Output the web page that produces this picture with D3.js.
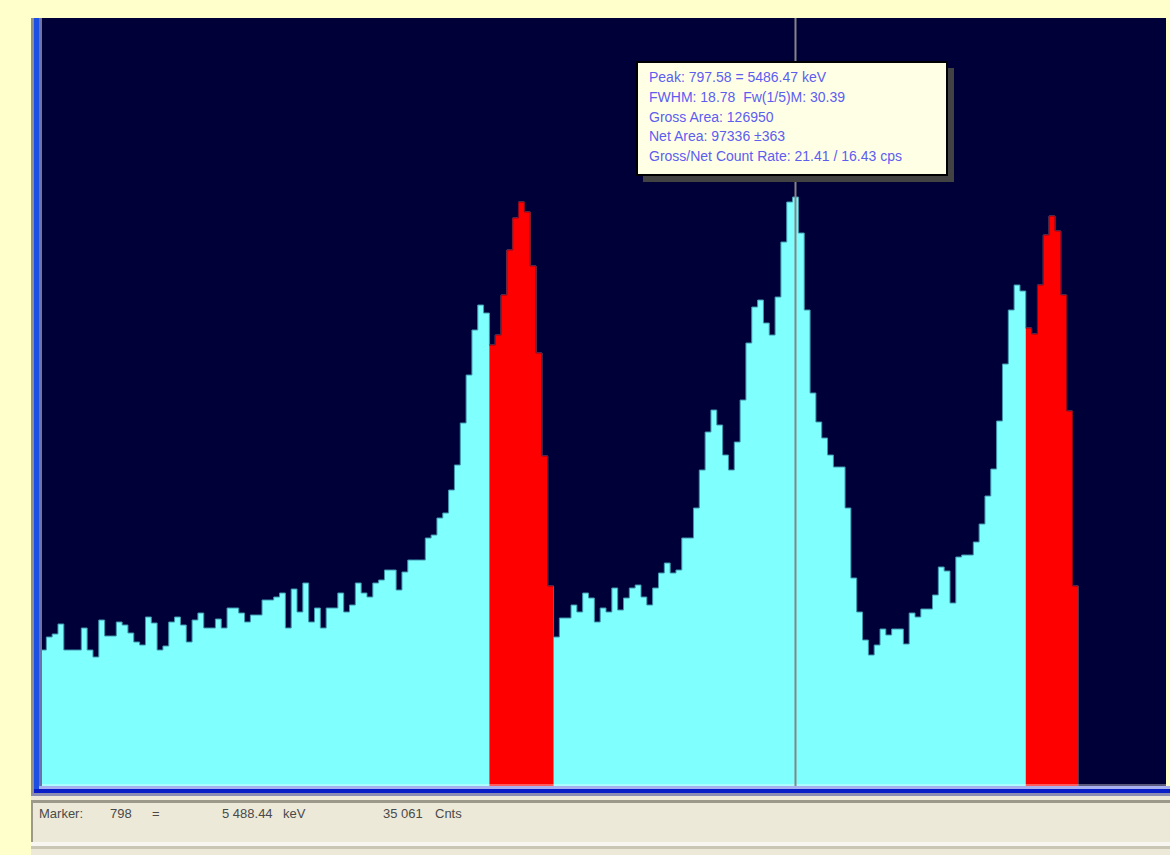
<!DOCTYPE html>
<html>
<head>
<meta charset="utf-8">
<script src="https://cdn.jsdelivr.net/npm/d3@7"></script>
<style>
  body { margin: 0; background: #ffffcc; }
  svg { display: block; }
</style>
</head>
<body>
<div id="scene"></div>
<script>
// spectrum window: channels shown and counts per channel
const firstChannel = 669;
const lastChannel = 861;
const counts = [
  8160, 8940, 9120, 9720, 8160, 8160, 8160, 9480, 8160, 7740,
  9960, 9000, 9000, 9840, 9660, 9180, 8640, 8460, 10140, 9780,
  8160, 8400, 9840, 10140, 9660, 8640, 9960, 10380, 9480, 9480,
  10020, 9480, 10680, 10680, 10380, 9840, 10260, 10260, 11160, 11160,
  11340, 11580, 9480, 11820, 10440, 12180, 9840, 10680, 9480, 10680,
  10680, 11580, 10440, 10860, 12180, 11580, 11340, 12180, 12360, 12960,
  12960, 11760, 12840, 13560, 13560, 13560, 14880, 15060, 16080, 16380,
  17760, 19260, 21780, 24660, 27360, 28860, 28380, 26460, 27060, 29460,
  32160, 34080, 35040, 34440, 31200, 25980, 19800, 12000, 8940, 10080,
  10080, 10860, 10440, 11580, 11280, 9840, 10680, 10440, 11880, 10560,
  11280, 11880, 12060, 11340, 10860, 11880, 12780, 13380, 12780, 12960,
  14880, 14880, 16680, 18960, 21240, 22560, 21660, 19860, 18960, 20640,
  23160, 26580, 28740, 29160, 27780, 27060, 29340, 32640, 35040, 35340,
  33180, 28560, 23580, 21840, 20880, 19860, 19140, 19140, 16680, 12480,
  10440, 8760, 7860, 8460, 9420, 9060, 9420, 9420, 8520, 10380,
  10140, 10620, 10620, 11460, 13140, 12900, 10980, 13740, 13860, 13860,
  14640, 15720, 17400, 19020, 21900, 25320, 28560, 30060, 29700, 27480,
  27120, 30060, 33060, 34200, 33300, 29460, 22500, 12000
];
const countsMax = 46080;
// regions of interest (drawn red)
const roiRanges = [[746, 756], [838, 846]];
const markerChannel = 798;

const peakLines = [
  "Peak: 797.58 = 5486.47 keV",
  "FWHM: 18.78  Fw(1/5)M: 30.39",
  "Gross Area: 126950",
  "Net Area: 97336 \u00b1363",
  "Gross/Net Count Rate: 21.41 / 16.43 cps"
];
const statusItems = ["Marker:", "798", "=", "5 488.44", "keV", "35 061", "Cnts"];

const W = 1170, H = 855;
const plot = { left: 42, right: 1166, top: 18, bottom: 786 };

const svg = d3.select("#scene").append("svg")
  .attr("width", W)
  .attr("height", H);

svg.append("rect").attr("width", W).attr("height", H).attr("fill", "#ffffcc");

const x = d3.scaleLinear()
  .domain([firstChannel - 0.5, lastChannel + 0.5])
  .range([40.5, 1165.7]);
const y = d3.scaleLinear()
  .domain([0, countsMax])
  .range([plot.bottom, plot.top]);

svg.append("defs").append("clipPath").attr("id", "plotClip")
  .append("rect")
  .attr("x", plot.left).attr("y", plot.top)
  .attr("width", plot.right - plot.left)
  .attr("height", plot.bottom - plot.top);

// navy background of the spectrum
svg.append("rect")
  .attr("x", plot.left).attr("y", plot.top)
  .attr("width", plot.right - plot.left)
  .attr("height", plot.bottom - plot.top)
  .attr("fill", "#000038");

const data = counts.map((v, i) => ({ ch: firstChannel + i, v: v }));

// step points: each channel spans ch-0.5 .. ch+0.5
function steps(rows) {
  const pts = rows.map(d => ({ x: d.ch - 0.5, v: d.v }));
  const last = rows[rows.length - 1];
  pts.push({ x: last.ch + 0.5, v: last.v });
  return pts;
}

const area = d3.area()
  .curve(d3.curveStepAfter)
  .x(d => x(d.x))
  .y0(plot.bottom)
  .y1(d => y(d.v));

const line = d3.line()
  .curve(d3.curveStepAfter)
  .x(d => x(d.x))
  .y(d => y(d.v));

const g = svg.append("g").attr("clip-path", "url(#plotClip)");

g.append("path")
  .datum(steps(data))
  .attr("d", area)
  .attr("fill", "#80ffff");

g.append("path")
  .datum(steps(data))
  .attr("d", line)
  .attr("fill", "none")
  .attr("stroke", "#3f98ae")
  .attr("stroke-width", 1);

roiRanges.forEach(r => {
  const sub = data.filter(d => d.ch >= r[0] && d.ch <= r[1]);
  g.append("path")
    .datum(steps(sub))
    .attr("d", area)
    .attr("fill", "#ff0000");
  g.append("path")
    .datum(steps(sub))
    .attr("d", line)
    .attr("fill", "none")
    .attr("stroke", "#8c0018")
    .attr("stroke-width", 1);
});

// pale baseline
g.append("rect")
  .attr("x", plot.left).attr("y", plot.bottom - 2)
  .attr("width", plot.right - plot.left).attr("height", 2)
  .attr("fill", "#ffffff").attr("opacity", 0.35);

// marker line
svg.append("line")
  .attr("x1", x(markerChannel)).attr("x2", x(markerChannel))
  .attr("y1", plot.top).attr("y2", plot.bottom)
  .attr("stroke", "#858585")
  .attr("stroke-width", 2);

// window frame: left and bottom borders
svg.append("rect").attr("x", 31).attr("y", plot.top).attr("width", 3).attr("height", 778).attr("fill", "#8e8e8e");
svg.append("rect").attr("x", 34).attr("y", plot.top).attr("width", 5).attr("height", 775).attr("fill", "#1c50e2");
svg.append("rect").attr("x", 39).attr("y", plot.top).attr("width", 3).attr("height", 770).attr("fill", "#6f72a8");
svg.append("rect").attr("x", 39).attr("y", 786).attr("width", W - 39).attr("height", 3).attr("fill", "#a8b0f0");
svg.append("rect").attr("x", 34).attr("y", 789).attr("width", W - 34).attr("height", 4).attr("fill", "#0a1ec8");
svg.append("rect").attr("x", 31).attr("y", 793).attr("width", W - 31).attr("height", 3).attr("fill", "#8a8cb4");

// status bar
const sb = svg.append("g");
sb.append("rect").attr("x", 31).attr("y", 796).attr("width", W - 31).attr("height", 59).attr("fill", "#ece9d8");
sb.append("rect").attr("x", 31).attr("y", 800).attr("width", W - 31).attr("height", 3).attr("fill", "#9c998a");
sb.append("rect").attr("x", 31).attr("y", 800).attr("width", 2).attr("height", 45).attr("fill", "#9c998a");
sb.append("rect").attr("x", 31).attr("y", 842).attr("width", W - 31).attr("height", 4).attr("fill", "#f7f6f0");
sb.append("rect").attr("x", 31).attr("y", 846).attr("width", W - 31).attr("height", 3).attr("fill", "#c9c6b6");

const statusX = [39, 110, 152, 222, 283, 383, 435];
sb.selectAll("text.status")
  .data(statusItems)
  .enter().append("text")
  .attr("class", "status")
  .attr("x", (d, i) => statusX[i])
  .attr("y", 818)
  .attr("font-family", "Liberation Sans, Arial, sans-serif")
  .attr("font-size", 13)
  .attr("fill", "#4a4a4a")
  .text(d => d);

// peak info tooltip
const tip = svg.append("g");
tip.append("rect")
  .attr("x", 643).attr("y", 68).attr("width", 311).attr("height", 114)
  .attr("fill", "#424242");
tip.append("rect")
  .attr("x", 637).attr("y", 62).attr("width", 310).attr("height", 113)
  .attr("fill", "#ffffe6")
  .attr("stroke", "#000000")
  .attr("stroke-width", 2);

tip.selectAll("text")
  .data(peakLines)
  .enter().append("text")
  .attr("x", 649)
  .attr("y", (d, i) => 82 + i * 19.8)
  .attr("font-family", "Liberation Sans, Arial, sans-serif")
  .attr("font-size", 14)
  .attr("fill", "#5d5df0")
  .style("white-space", "pre")
  .attr("xml:space", "preserve")
  .text(d => d);
</script>
</body>
</html>
